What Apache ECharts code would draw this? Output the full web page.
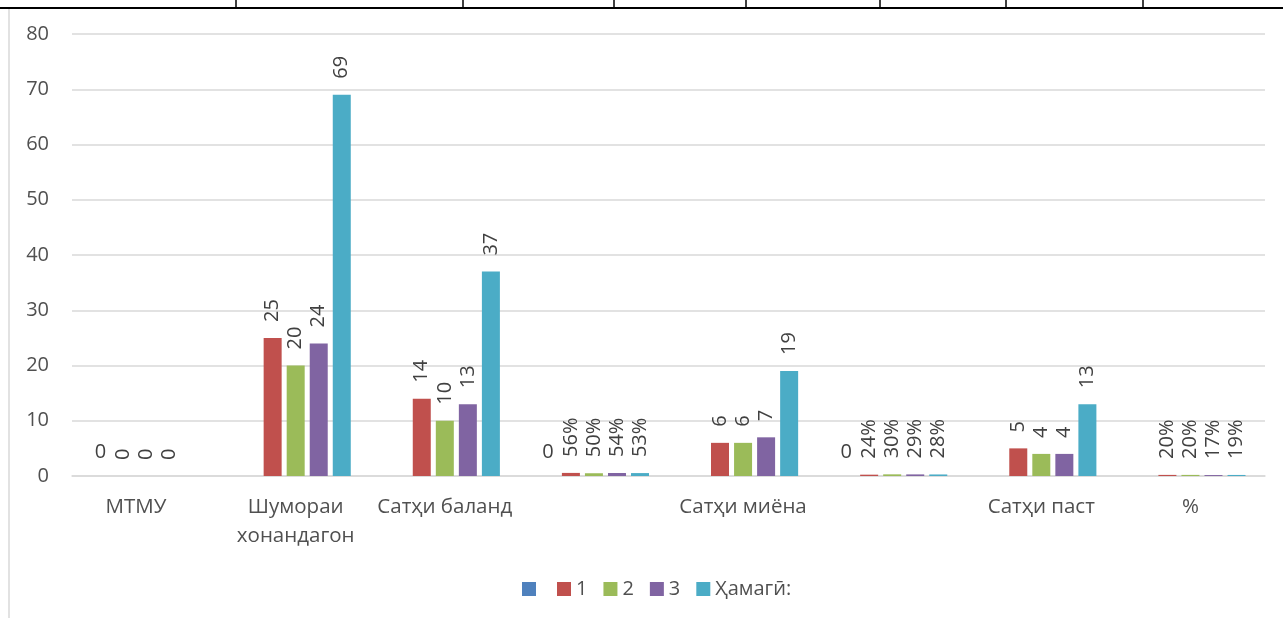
<!DOCTYPE html>
<html>
<head>
<meta charset="utf-8">
<script src="https://cdn.jsdelivr.net/npm/echarts@6/dist/echarts.min.js"></script>
<style>
html,body{margin:0;padding:0;background:#fff;}
#chart{width:1283px;height:618px;}
</style>
</head>
<body>
<div id="chart"></div>
<script>
const categories = ['МТМУ    ', 'Шумораи\nхонандагон', 'Сатҳи баланд', '', 'Сатҳи миёна', '', 'Сатҳи паст', '%'];
const percentCategory = [false, false, false, true, false, true, false, true];
const seriesNames = ['\u200b', '1', '2', '3', 'Ҳамагӣ:'];
const seriesBlank = [0, null, null, 0, null, 0, null, null];
const series1 = [0, 25, 14, 0.56, 6, 0.24, 5, 0.20];
const series2 = [0, 20, 10, 0.50, 6, 0.30, 4, 0.20];
const series3 = [0, 24, 13, 0.54, 7, 0.29, 4, 0.17];
const seriesTotal = [null, 69, 37, 0.53, 19, 0.28, 13, 0.19];
const colors = ['#4F81BD', '#C0504D', '#9BBB59', '#8064A2', '#4BACC6'];
const yTicks = [0, 10, 20, 30, 40, 50, 60, 70, 80];

const FONT = '"Open Sans", "Noto Sans", sans-serif';
const allData = [seriesBlank, series1, series2, series3, seriesTotal];

function fmt(p) {
  const v = p.value;
  if (v == null) return '';
  if (percentCategory[p.dataIndex] && v !== 0) return Math.round(v * 100) + '%';
  return String(v);
}

const series = allData.map((d, i) => ({
  name: seriesNames[i],
  type: 'bar',
  data: d,
  barWidth: 18,
  barGap: '28%',
  itemStyle: { color: colors[i] },
  label: i === 0 ? {
    show: true, position: 'top', distance: 14,
    fontFamily: FONT, fontSize: 20, color: '#404040', formatter: fmt
  } : {
    show: true, position: 'top', distance: 16, rotate: 90,
    align: 'left', verticalAlign: 'middle',
    fontFamily: FONT, fontSize: 20, color: '#404040', formatter: fmt
  }
}));

const chart = echarts.init(document.getElementById('chart'));
const vLines = [236, 463, 614, 746, 880, 1006, 1143];
const graphics = [
  { type: 'line', shape: { x1: 0, y1: 8, x2: 1283, y2: 8 }, style: { stroke: '#000', lineWidth: 2 } },
  { type: 'line', shape: { x1: 9, y1: 9, x2: 9, y2: 618 }, style: { stroke: '#d9d9d9', lineWidth: 1.5 } }
].concat(vLines.map(x => ({ type: 'line', shape: { x1: x, y1: 0, x2: x, y2: 8 }, style: { stroke: '#000', lineWidth: 1.5 } })));

chart.setOption({
  animation: false,
  backgroundColor: '#fff',
  color: colors,
  graphic: graphics,
  grid: { left: 72, right: 18, top: 34, bottom: 142, containLabel: false },
  legend: {
    data: seriesNames,
    left: 517, top: 574,
    itemWidth: 14, itemHeight: 14, itemGap: 16,
    icon: 'rect',
    textStyle: { fontFamily: FONT, fontSize: 20, color: '#505050' }
  },
  xAxis: {
    type: 'category',
    data: categories,
    axisLine: { show: true, lineStyle: { color: '#d9d9d9', width: 1.5 } },
    axisTick: { show: false },
    axisLabel: { interval: 0, margin: 17, fontFamily: FONT, fontSize: 20.5, color: '#505050', lineHeight: 29 }
  },
  yAxis: {
    type: 'value',
    min: yTicks[0], max: yTicks[yTicks.length - 1], interval: 10,
    axisLine: { show: false },
    axisTick: { show: false },
    splitLine: { lineStyle: { color: '#d9d9d9', width: 1.5 } },
    axisLabel: { margin: 23, fontFamily: FONT, fontSize: 20, color: '#505050' }
  },
  series: series
});
</script>
</body>
</html>
